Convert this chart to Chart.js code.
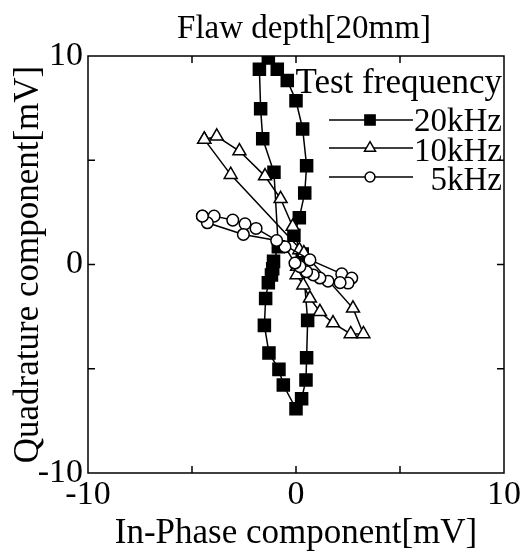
<!DOCTYPE html>
<html><head><meta charset="utf-8">
<script src="https://cdn.jsdelivr.net/npm/chart.js@4"></script>
<style>html,body{margin:0;padding:0;background:#fff}#wrap{width:524px;height:555px}</style>
</head><body><div id="wrap"><canvas id="c" width="524" height="555"></canvas></div>
<script>
const chartTitle = 'Flaw depth[20mm]';
const xAxisTitle = 'In-Phase component[mV]';
const yAxisTitle = 'Quadrature component[mV]';
const legendTitle = 'Test frequency';
const seriesNames = ['20kHz', '10kHz', '5kHz'];
const labeledTicks = [-10, 0, 10];
const minorTicks = [-5, 0, 5];

// 20 kHz (squares)
const x20 = [-0.1, 0.16, 0.42, 0.51, 0.32, 0.0, -0.42, -0.9, -1.33, -1.76, -1.70, -1.60, -1.06, -0.85, -1.08, -1.12, -1.18, -1.33, -1.46, -1.52, -1.30, -0.82, -0.61, 0.0, 0.27, 0.48, 0.51, 0.56, 0.3];
const y20 = [1.4, 2.24, 3.43, 4.74, 6.5, 7.85, 8.83, 9.37, 9.9, 9.37, 7.47, 6.03, 4.42, 0.85, 0.15, -0.2, -0.5, -0.88, -1.63, -2.92, -4.24, -5.03, -5.78, -6.92, -6.44, -5.54, -4.47, -2.68, 0.5];
// 10 kHz (triangles)
const x10 = [-4.41, -3.81, -2.72, -1.49, -0.74, -0.16, 0.16, 0.05, 0.03, 0.35, 0.67, 1.15, 1.78, 2.63, 3.24, 2.74, 0.38, -3.14, -4.41];
const y10 = [6.0, 6.15, 5.44, 4.24, 3.15, 1.82, 0.7, -0.1, -0.5, -0.99, -1.62, -2.27, -2.81, -3.33, -3.33, -2.1, 0.55, 4.31, 6.0];
// 5 kHz (circles)
const x5 = [-4.5, -3.94, -3.04, -2.45, -1.92, 0.67, 2.2, 2.68, 2.5, 2.12, 1.54, 1.15, 0.83, 0.51, 0.19, -0.05, -0.53, -0.93, -2.53, -4.26, -4.5];
const y5 = [2.32, 2.32, 2.13, 1.95, 1.73, 0.22, -0.45, -0.65, -0.89, -0.87, -0.8, -0.65, -0.5, -0.35, -0.1, 0.07, 0.85, 1.15, 1.44, 2.0, 2.32];

const FONT = '"Liberation Serif", "Times New Roman", serif';
const pts = (xs, ys) => xs.map((x, i) => ({x: x, y: ys[i]}));
const styles = [
  {pointStyle: 'rect', radius: 8.5, fill: '#000', order: 3},
  {pointStyle: 'triangle', radius: 7.5, fill: '#fff', order: 2},
  {pointStyle: 'circle', radius: 5.8, fill: '#fff', order: 1}
];
const dataArr = [pts(x20, y20), pts(x10, y10), pts(x5, y5)];
const datasets = dataArr.map((d, i) => ({
  label: seriesNames[i], data: d, showLine: true, tension: 0,
  borderColor: '#000', borderWidth: 1.5,
  pointStyle: styles[i].pointStyle, pointRadius: styles[i].radius,
  pointBackgroundColor: styles[i].fill, pointBorderColor: '#000', pointBorderWidth: 1.5,
  order: styles[i].order
}));

const framePlugin = {
  id: 'frame',
  afterDraw(chart) {
    const ctx = chart.ctx, a = chart.chartArea, xs = chart.scales.x, ys = chart.scales.y;
    ctx.save();
    ctx.strokeStyle = '#000'; ctx.lineWidth = 1.5;
    ctx.strokeRect(a.left, a.top, a.right - a.left, a.bottom - a.top);
    const tl = 7;
    ctx.beginPath();
    minorTicks.forEach(v => {
      const px = xs.getPixelForValue(v);
      ctx.moveTo(px, a.bottom); ctx.lineTo(px, a.bottom - tl);
      ctx.moveTo(px, a.top); ctx.lineTo(px, a.top + tl);
      const py = ys.getPixelForValue(v);
      ctx.moveTo(a.left, py); ctx.lineTo(a.left + tl, py);
      ctx.moveTo(a.right, py); ctx.lineTo(a.right - tl, py);
    });
    ctx.stroke();
    // chart title
    ctx.fillStyle = '#000';
    ctx.font = '33px ' + FONT;
    ctx.textAlign = 'center'; ctx.textBaseline = 'alphabetic';
    ctx.fillText(chartTitle, 304, 38);
    // legend
    ctx.textAlign = 'right';
    ctx.font = '35px ' + FONT;
    ctx.fillText(legendTitle, 502, 93);
    ctx.font = '33px ' + FONT;
    const rowY = [120, 148, 177];
    const baseY = [131, 161, 190];
    seriesNames.forEach((n, i) => {
      ctx.beginPath();
      ctx.moveTo(329, rowY[i]); ctx.lineTo(413, rowY[i]);
      ctx.lineWidth = 1.5; ctx.strokeStyle = '#000'; ctx.stroke();
      ctx.fillStyle = styles[i].fill; ctx.strokeStyle = '#000'; ctx.lineWidth = 1.5;
      Chart.helpers.drawPoint(ctx, {pointStyle: styles[i].pointStyle, radius: styles[i].radius * 0.85, borderWidth: 1.5, rotation: 0}, 370, rowY[i]);
      ctx.fillStyle = '#000';
      ctx.fillText(n, 502, baseY[i]);
    });
    ctx.restore();
  }
};

new Chart(document.getElementById('c'), {
  type: 'scatter',
  data: {datasets: datasets},
  options: {
    responsive: false, animation: false, devicePixelRatio: 1,
    layout: {padding: {left: 0, top: 56, right: 20, bottom: 0}},
    plugins: {legend: {display: false}, tooltip: {enabled: false}, title: {display: false}},
    scales: {
      x: {
        type: 'linear', min: -10, max: 10,
        afterBuildTicks: s => { s.ticks = labeledTicks.map(v => ({value: v})); },
        ticks: {autoSkip: false, maxRotation: 0, color: '#000', padding: 2, font: {family: FONT, size: 34}, callback: v => String(v)},
        grid: {display: false, drawTicks: false},
        border: {display: false},
        title: {display: true, text: xAxisTitle, color: '#000', font: {family: FONT, size: 35}, padding: {top: 0, bottom: 0}},
        afterFit: s => { s.height = 82; }
      },
      y: {
        type: 'linear', min: -10, max: 10,
        afterBuildTicks: s => { s.ticks = labeledTicks.map(v => ({value: v})); },
        ticks: {autoSkip: false, color: '#000', padding: 5, font: {family: FONT, size: 34}, callback: v => String(v)},
        grid: {display: false, drawTicks: false},
        border: {display: false},
        title: {display: true, text: yAxisTitle, color: '#000', font: {family: FONT, size: 35}, padding: {top: 8, bottom: 0}},
        afterFit: s => { s.width = 88; }
      }
    }
  },
  plugins: [framePlugin]
});
</script></body></html>
